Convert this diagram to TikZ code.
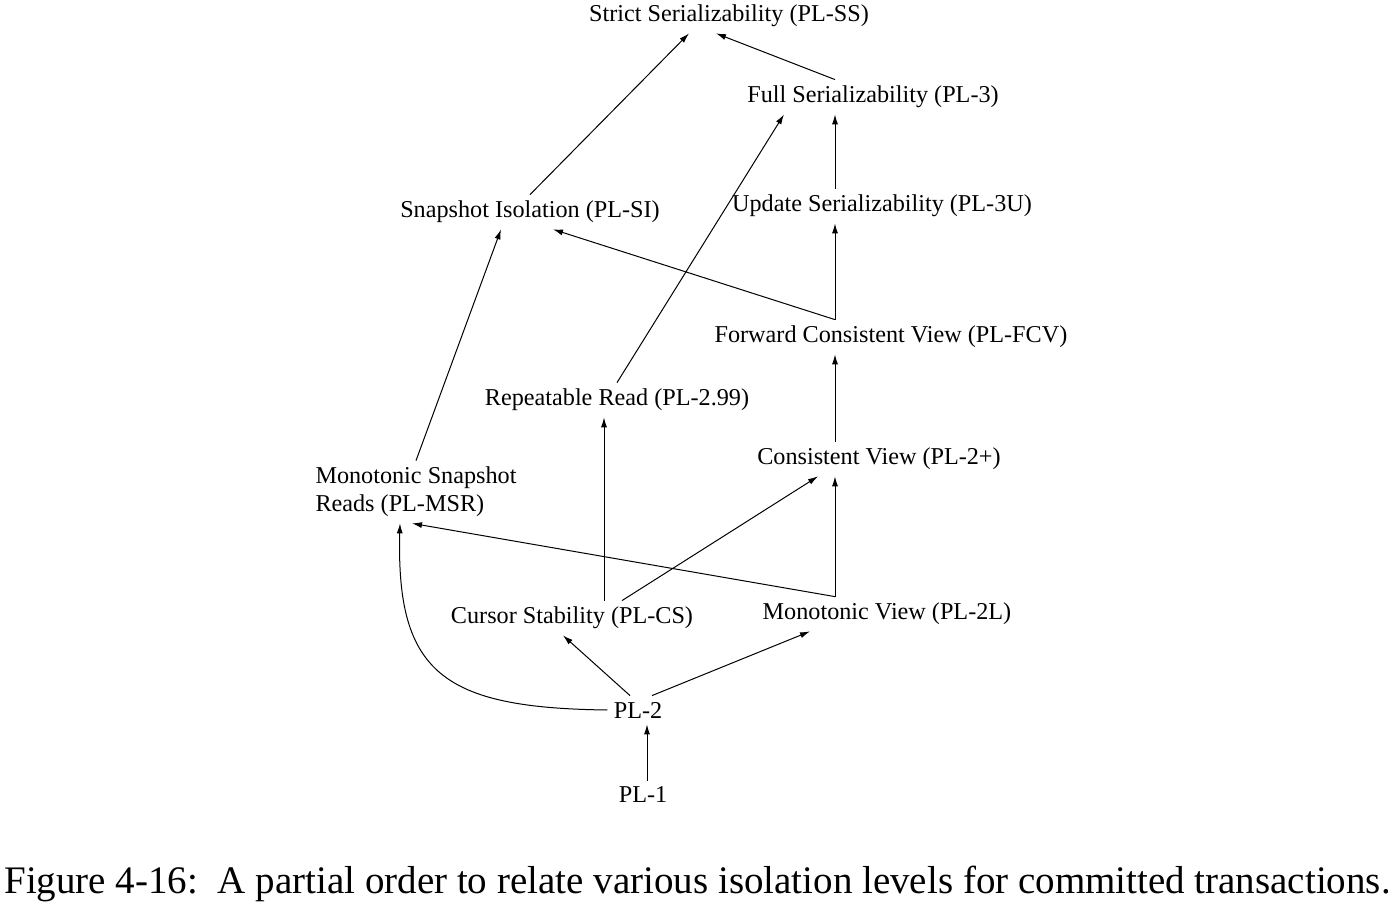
\documentclass[tikz,border=0pt]{standalone}
\usepackage{fontspec}
\setmainfont{Liberation Serif}
\usetikzlibrary{arrows.meta}
\begin{document}
\begin{tikzpicture}[x=0.5pt, y=-0.5pt,
        level/.style={inner sep=3pt, font=\fontsize{12.1}{14}\selectfont},
        arr/.style={-{Latex[length=5pt,width=3pt]}, line width=0.5pt}]
            \useasboundingbox (0,0) rectangle (1388,903);
            % isolation levels
            \node[level] (ss)  at (729,16)  {Strict Serializability (PL-SS)};
            \node[level] (pl3) at (873,97)  {Full Serializability (PL-3)};
            \node[level] (si)  at (530,212) {Snapshot Isolation (PL-SI)};
            \node[level] (pl3u) at (882,206) {Update Serializability (PL-3U)};
            \node[level] (fcv) at (891,337) {Forward Consistent View (PL-FCV)};
            \node[level] (rr)  at (617,400) {Repeatable Read (PL-2.99)};
            \node[level] (cv)  at (879,459) {Consistent View (PL-2+)};
            \node[level, align=left] (msr) at (416,492) {Monotonic Snapshot\\Reads (PL-MSR)};
            \node[level] (cs)  at (572,618) {Cursor Stability (PL-CS)};
            \node[level] (mv)  at (887,614) {Monotonic View (PL-2L)};
            \node[level] (pl2) at (638,710) {PL-2};
            \node[level] (pl1) at (643,795) {PL-1};
            \coordinate (spine) at (835,0);
            % edges
            \draw[arr] (si.north) -- ([xshift=-20pt]ss.south);
            \draw[arr] ([xshift=-19pt]pl3.north) -- ([xshift=-6.5pt]ss.south);
            \draw[arr] (rr.north) -- ([xshift=-44.5pt]pl3.south);
            \draw[arr] (pl3u.north -| spine) -- (pl3.south -| spine);
            \draw[arr] (fcv.north -| spine) -- (pl3u.south -| spine);
            \draw[arr] (fcv.north -| spine) -- ([xshift=11.5pt]si.south);
            \draw[arr] (cv.north -| spine) -- (fcv.south -| spine);
            \draw[arr] (msr.north) -- ([xshift=-14.5pt]si.south);
            \draw[arr] ([xshift=16pt]cs.north) -- ([xshift=-6.5pt]rr.south);
            \draw[arr] ([xshift=25pt]cs.north) -- ([xshift=-30.5pt]cv.south);
            \draw[arr] (mv.north -| spine) -- (cv.south -| spine);
            \draw[arr] (mv.north -| spine) -- ([xshift=-2pt]msr.south);
            \draw[arr] (pl2.west) .. controls +(-164,-2) and +(-4,150) .. ([xshift=-8pt]msr.south);
            \draw[arr] ([xshift=-4pt]pl2.north) -- ([xshift=-4.5pt]cs.south);
            \draw[arr] ([xshift=7pt]pl2.north) -- ([xshift=-38.5pt]mv.south);
            \draw[arr] ([xshift=2pt]pl1.north) -- ([xshift=4.5pt]pl2.south);
            % caption
            \node[anchor=base west, inner sep=0pt, font=\fontsize{19.5}{23}\selectfont] (cap) at (4,893)
                {Figure 4-16:\ \ A partial order to relate various isolation levels for committed transactions.};
        \end{tikzpicture}
\end{document}
